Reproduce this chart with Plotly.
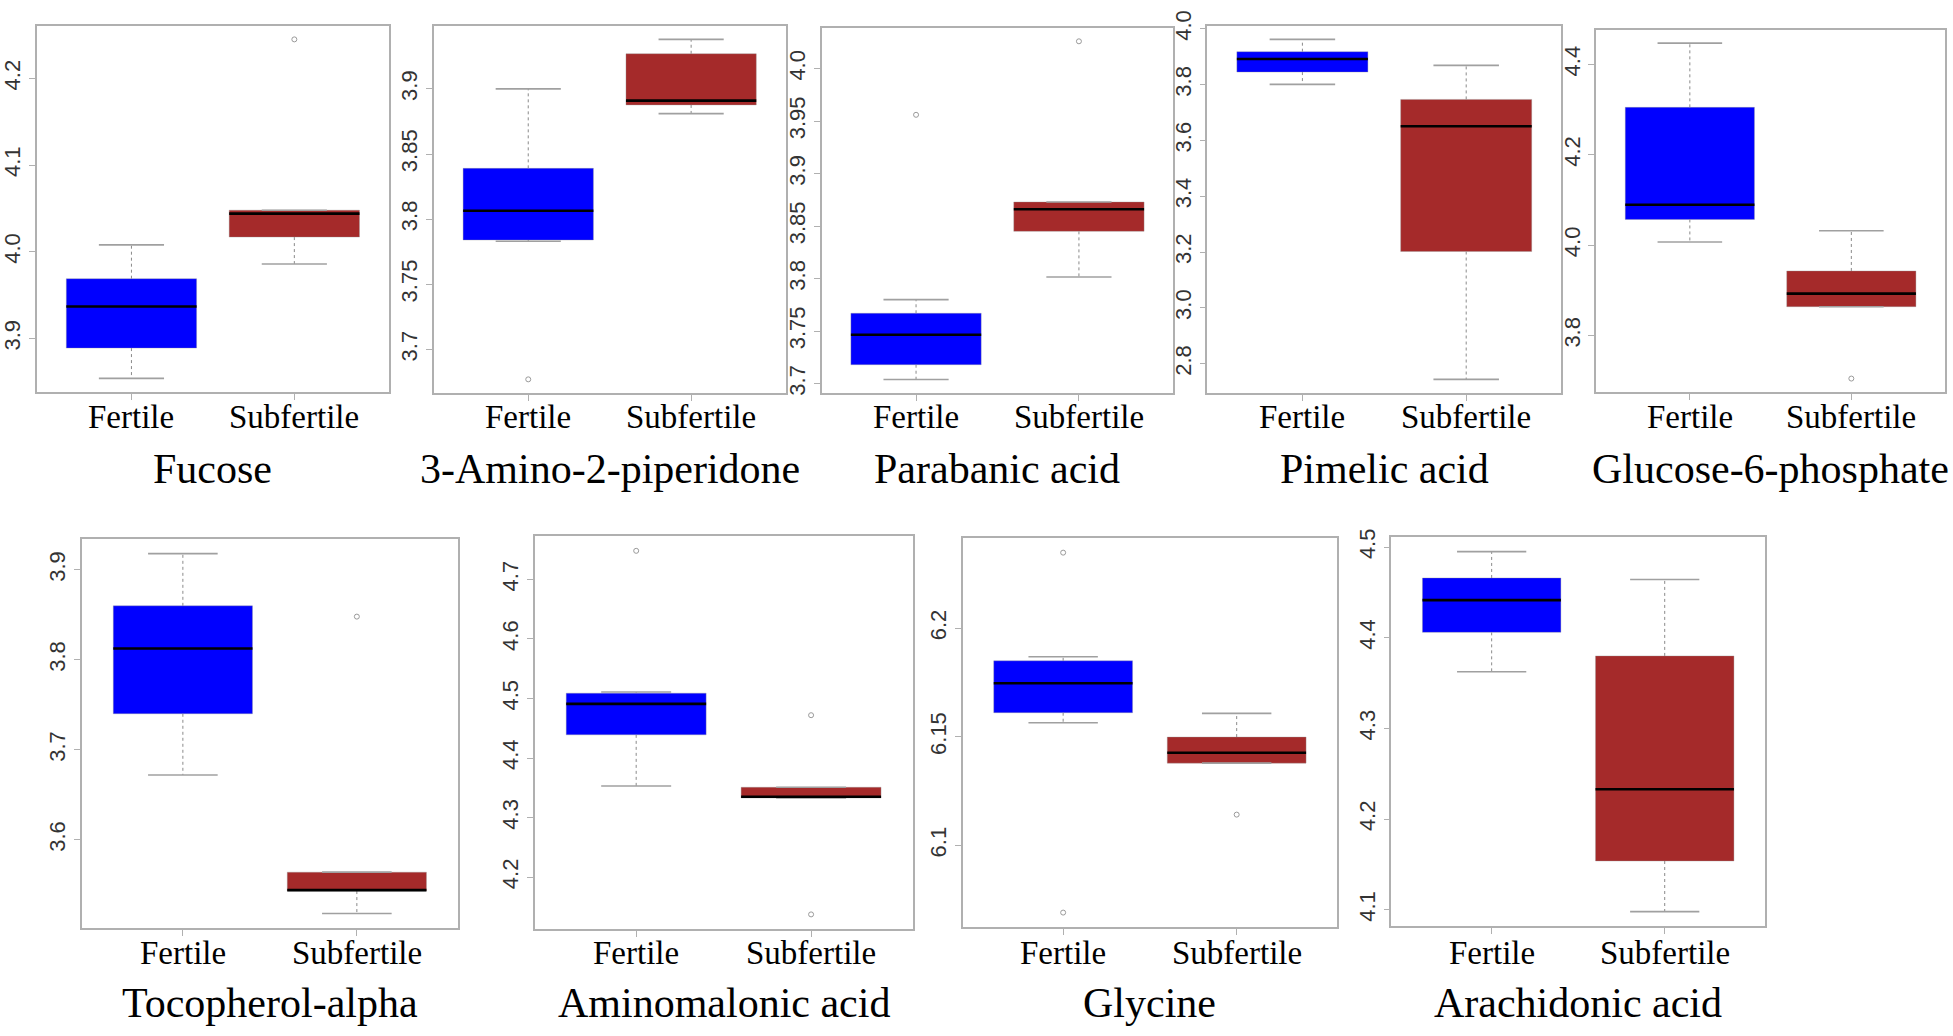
import plotly.graph_objects as go

# ---------------- data ----------------
names = ["Fucose", "3-Amino-2-piperidone", "Parabanic acid", "Pimelic acid",
         "Glucose-6-phosphate", "Tocopherol-alpha", "Aminomalonic acid",
         "Glycine", "Arachidonic acid"]
groups = ["Fertile", "Subfertile"]

fert_lo  = [3.854, 3.783, 3.704, 3.801, 4.007, 3.672, 4.353, 6.1565, 4.3625]
fert_q1  = [3.889, 3.784, 3.718, 3.845, 4.057, 3.740, 4.439, 6.1611, 4.406]
fert_med = [3.937, 3.8065, 3.7466, 3.892, 4.0895, 3.8126, 4.491, 6.1747, 4.4415]
fert_q3  = [3.969, 3.839, 3.767, 3.918, 4.305, 3.860, 4.509, 6.185, 4.466]
fert_hi  = [4.008, 3.900, 3.780, 3.962, 4.447, 3.918, 4.511, 6.1869, 4.495]
fert_out = [[], [3.677], [3.956], [], [], [], [4.748], [6.2348, 6.0691], []]

sub_lo  = [3.986, 3.881, 3.8016, 2.744, 3.864, 3.518, 4.333, 6.1379, 4.098]
sub_q1  = [4.017, 3.8877, 3.845, 3.202, 3.864, 3.543, 4.333, 6.1379, 4.1538]
sub_med = [4.044, 3.891, 3.866, 3.651, 3.893, 3.544, 4.335, 6.1427, 4.233]
sub_q3  = [4.048, 3.927, 3.873, 3.747, 3.943, 3.564, 4.351, 6.1499, 4.380]
sub_hi  = [4.048, 3.938, 3.873, 3.869, 4.032, 3.564, 4.351, 6.1608, 4.4643]
sub_out = [[4.245], [], [4.026], [], [3.705], [3.848], [4.472, 4.1375], [6.1142], []]

ytick_labels = [
    ["3.9", "4.0", "4.1", "4.2"],
    ["3.7", "3.75", "3.8", "3.85", "3.9"],
    ["3.7", "3.75", "3.8", "3.85", "3.9", "3.95", "4.0"],
    ["2.8", "3.0", "3.2", "3.4", "3.6", "3.8", "4.0"],
    ["3.8", "4.0", "4.2", "4.4"],
    ["3.6", "3.7", "3.8", "3.9"],
    ["4.2", "4.3", "4.4", "4.5", "4.6", "4.7"],
    ["6.1", "6.15", "6.2"],
    ["4.1", "4.2", "4.3", "4.4", "4.5"],
]

# ---------------- layout / style ----------------
W, H = 1953, 1036
# plot-area boxes in pixels: (left, right, top, bottom)
boxes = [
    (36, 388, 10, 383), (433, 785, 10, 384), (821, 1173, 12, 384),
    (1207, 1561, 10, 384), (1596, 1945, 14, 383),
    (81, 457, 533, 929), (534, 912, 530, 930), (962, 1337, 532, 928),
    (1391, 1765, 531, 927),
]
label_y_px = [408] * 5 + [955] * 4
title_y_px = [461] * 5 + [1005] * 4
colors = ["#0000FF", "#A52A2A"]
frame_col = "#b0b0b0"
serif = "Liberation Serif, Times New Roman, serif"
sans = "Liberation Sans, Arial, sans-serif"
BOXW = 0.8
CAPW = 0.4

fig = go.Figure()
layout = dict(
    width=W, height=H, margin=dict(l=0, r=0, t=0, b=0),
    paper_bgcolor="white", plot_bgcolor="white", showlegend=False,
    annotations=[],
)

for k in range(9):
    ax = "" if k == 0 else str(k + 1)
    xa, ya = "x" + ax, "y" + ax
    pos = [1, 2]
    lo = [fert_lo[k], sub_lo[k]]
    q1 = [fert_q1[k], sub_q1[k]]
    med = [fert_med[k], sub_med[k]]
    q3 = [fert_q3[k], sub_q3[k]]
    hi = [fert_hi[k], sub_hi[k]]
    outs = [fert_out[k], sub_out[k]]

    # boxes
    fig.add_trace(go.Bar(
        x=pos, y=[q3[i] - q1[i] for i in range(2)], base=q1, width=BOXW,
        marker=dict(color=colors, line=dict(width=0.6, color="rgba(150,150,150,0.6)")),
        xaxis=xa, yaxis=ya, hoverinfo="skip"))
    # whiskers (dashed)
    wx, wy = [], []
    for i in range(2):
        wx += [pos[i], pos[i], None, pos[i], pos[i], None]
        wy += [q3[i], hi[i], None, q1[i], lo[i], None]
    fig.add_trace(go.Scatter(x=wx, y=wy, mode="lines",
                             line=dict(color="#8a8a8a", width=1, dash="3px,3px"),
                             xaxis=xa, yaxis=ya, hoverinfo="skip"))
    # caps
    cx, cy = [], []
    for i in range(2):
        for v in (hi[i], lo[i]):
            cx += [pos[i] - CAPW / 2, pos[i] + CAPW / 2, None]
            cy += [v, v, None]
    fig.add_trace(go.Scatter(x=cx, y=cy, mode="lines",
                             line=dict(color="#a0a0a0", width=1.6),
                             xaxis=xa, yaxis=ya, hoverinfo="skip"))
    # medians
    mx, my = [], []
    for i in range(2):
        mx += [pos[i] - BOXW / 2, pos[i] + BOXW / 2, None]
        my += [med[i], med[i], None]
    fig.add_trace(go.Scatter(x=mx, y=my, mode="lines",
                             line=dict(color="black", width=2.6),
                             xaxis=xa, yaxis=ya, hoverinfo="skip"))
    # outliers
    ox, oy = [], []
    for i in range(2):
        for v in outs[i]:
            ox.append(pos[i]); oy.append(v)
    if ox:
        fig.add_trace(go.Scatter(x=ox, y=oy, mode="markers",
                                 marker=dict(symbol="circle-open", size=5,
                                             color="#9a9a9a", line=dict(width=1)),
                                 xaxis=xa, yaxis=ya, hoverinfo="skip"))

    allv = lo + hi + [v for o in outs for v in o]
    vmin, vmax = min(allv), max(allv)
    pad = 0.04 * (vmax - vmin)

    l, r, t, b = boxes[k]
    layout["xaxis" + ax] = dict(
        domain=[l / W, r / W], anchor=ya, range=[0.42, 2.58],
        tickmode="array", tickvals=pos, showticklabels=False,
        ticks="outside", ticklen=6, tickcolor=frame_col, tickwidth=1.2,
        showline=True, mirror=True, linecolor=frame_col, linewidth=1.5,
        showgrid=False, zeroline=False, fixedrange=True,
    )
    tv = [float(s) for s in ytick_labels[k]]
    layout["yaxis" + ax] = dict(
        domain=[1 - b / H, 1 - t / H], anchor=xa, range=[vmin - pad, vmax + pad],
        tickmode="array", tickvals=tv, ticktext=ytick_labels[k], tickangle=-90,
        ticks="outside", ticklen=6, tickcolor=frame_col, tickwidth=1.2,
        showline=True, mirror=True, linecolor=frame_col, linewidth=1.5,
        showgrid=False, zeroline=False, fixedrange=True,
        tickfont=dict(family=sans, size=22, color="#333333"),
    )
    # category labels under the boxes
    for i in range(2):
        layout["annotations"].append(dict(
            text=groups[i], xref=xa, x=pos[i], xanchor="center",
            yref="paper", y=1 - label_y_px[k] / H, yanchor="middle",
            showarrow=False, font=dict(family=serif, size=33, color="black")))
    # panel title
    layout["annotations"].append(dict(
        text=names[k], xref=xa + " domain", x=0.5, xanchor="center",
        yref="paper", y=1 - title_y_px[k] / H, yanchor="middle",
        showarrow=False, font=dict(family=serif, size=42, color="black")))

fig.update_layout(**layout)
fig.write_html("out.html", config={"displayModeBar": False},
               post_script="document.body.style.margin='0px';")
